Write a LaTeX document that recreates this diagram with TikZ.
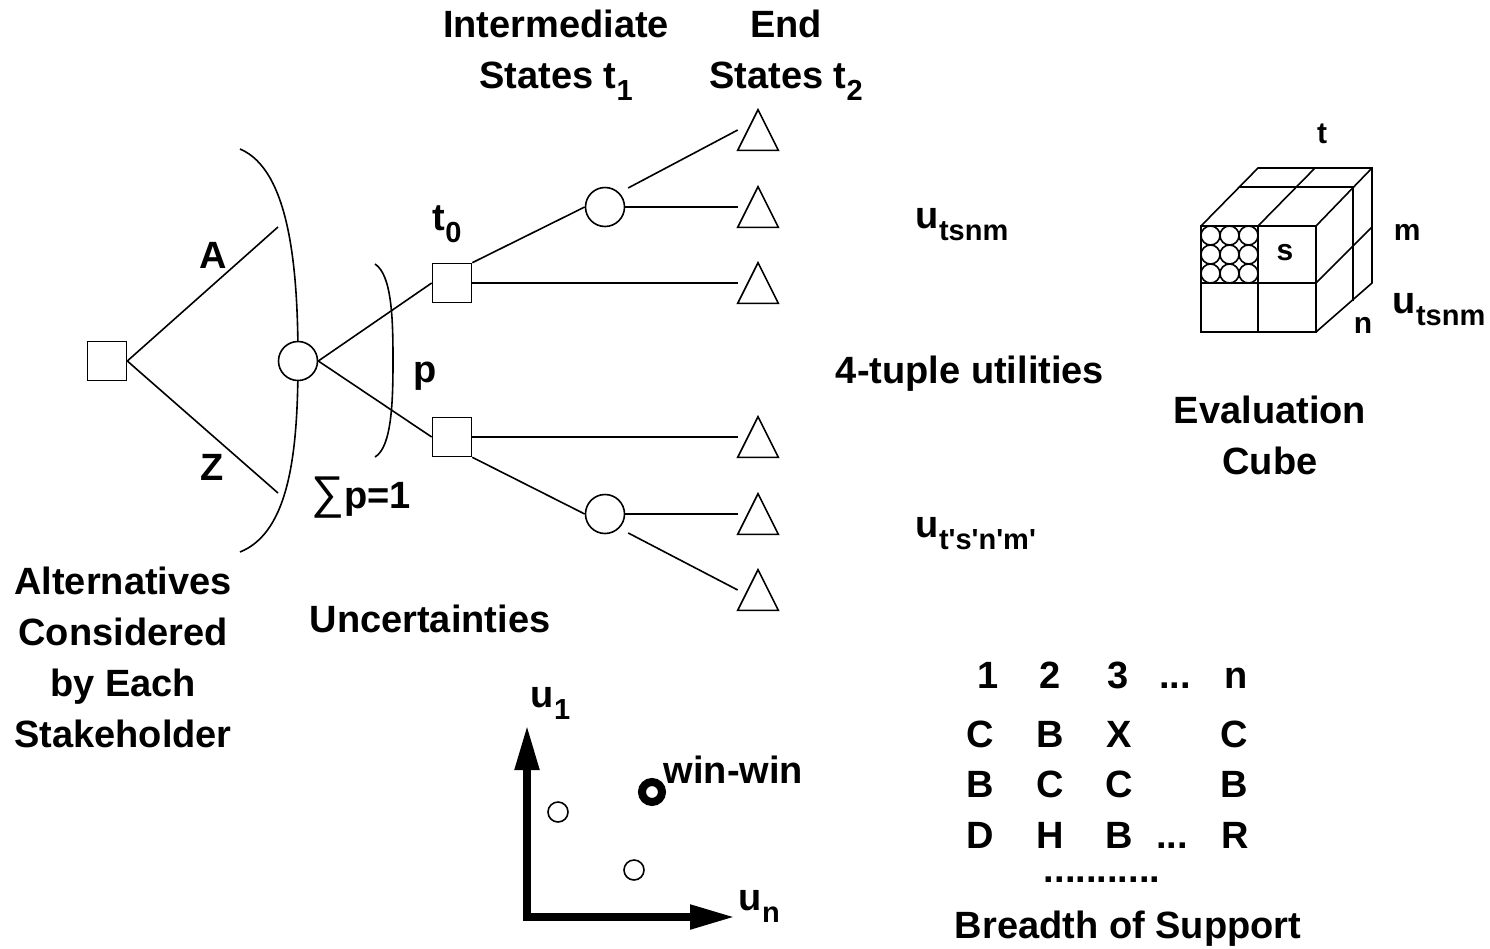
\documentclass[tikz,border=0pt]{standalone}
\usepackage{fontspec}
\setmainfont{Liberation Sans}
\usepackage{tikz}
\usetikzlibrary{arrows.meta}
\newcommand{\sbs}[1]{\raisebox{-.33em}{\fontsize{29}{29}\selectfont #1}}

\begin{document}
\begin{tikzpicture}[x=1pt,y=-1pt,line width=1.6pt,
  txt/.style={font=\bfseries\fontsize{38}{51}\selectfont, inner sep=0pt, anchor=base, align=center},
  small/.style={font=\bfseries\fontsize{30}{30}\selectfont, inner sep=0pt, anchor=base},
  box/.style={draw, fill=white, minimum size=39pt, inner sep=0pt},
  chance/.style={draw, fill=white, circle, minimum size=39pt, inner sep=0pt},
  endst/.style={minimum width=39pt, minimum height=39pt, inner sep=0pt},
  pt/.style={draw, circle, minimum size=20pt, inner sep=0pt}]
\useasboundingbox (0,0) rectangle (1490,948);
% brackets
\draw (240,149) .. controls (290,170) and (298,270) .. (298,360) .. controls (298,450) and (290,532) .. (240,552);
\draw (375,264) .. controls (392,275) and (393,320) .. (393,360) .. controls (393,400) and (392,447) .. (375,457);
% decision tree
\node[box] (d0) at (107,361) {};
\node[chance] (c0) at (298,361) {};
\node[box] (s1) at (452,283) {};
\node[box] (s2) at (452,437) {};
\node[chance] (c1) at (605,207) {};
\node[chance] (c2) at (605,514) {};
\foreach \n/\y in {1/130,2/207,3/283,4/437,5/514,6/590}{
  \node[endst] (e\n) at (758,\y) {};
  \draw (e\n.south west) -- (e\n.north) -- (e\n.south east) -- cycle;
}
\coordinate (ea) at (278,227);
\coordinate (ez) at (278,493);
\draw (d0.east) -- (ea);
\draw (d0.east) -- (ez);
\draw (c0.east) -- (s1.west);
\draw (c0.east) -- (s2.west);
\draw (s1.north east) -- (c1.west);
\draw (s1.east) -- (e3.west);
\draw[shorten <=10pt] (c1.north east) -- (e1.west);
\draw (c1.east) -- (e2.west);
\draw (s2.east) -- (e4.west);
\draw (s2.south east) -- (c2.west);
\draw (c2.east) -- (e5.west);
\draw[shorten <=10pt] (c2.south east) -- (e6.west);
% labels of the tree
\node[txt] (la) at (213,268) {A};
\node[txt] (lz) at (212,480) {Z};
\node[txt, anchor=base west] (lt0) at (432,230) {t\sbs{0}};
\node[txt] (lp) at (425,382) {p};
\node[txt] (lsum) at (361,508) {{\mdseries\fontsize{46}{46}\selectfont ∑}p=1};
\node[txt] (lint) at (556,88) {Intermediate\\States t\sbs{1}};
\node[txt] (lend) at (786,88) {End\\States t\sbs{2}};
\node[txt, anchor=base west] (lua) at (915,228) {u\sbs{tsnm}};
\node[txt] (ltup) at (970,383) {4-tuple utilities};
\node[txt, anchor=base west] (lub) at (915,537) {u\sbs{t\textquotesingle s\textquotesingle n\textquotesingle m\textquotesingle}};
\node[txt] (lalt) at (123,747) {Alternatives\\Considered\\by Each\\Stakeholder};
\node[txt] (lunc) at (430,632) {Uncertainties};
% evaluation cube
\draw (1201,226) rectangle (1316,332);
\draw (1258,226) -- (1258,332);
\draw (1201,283) -- (1316,283);
\draw (1201,226) -- (1258,168) -- (1372,168) -- (1372,283) -- (1316,332);
\draw (1316,226) -- (1372,168);
\draw (1258,226) -- (1315,168);
\draw (1239,187) -- (1353,187) -- (1353,301);
\draw (1316,283) -- (1372,227);
\foreach \i in {0,1,2}
  \foreach \j in {0,1,2}
    \draw (1210.5+19*\i,235.5+19*\j) circle (9.5pt);
\node[small] (ct) at (1322,143) {t};
\node[small, anchor=base west] (cm) at (1393,240) {m};
\node[small] (cs) at (1285,260) {s};
\node[small] (cn) at (1363,333) {n};
\node[txt, anchor=base west] (cu) at (1392,313) {u\sbs{tsnm}};
\node[txt] (lcube) at (1270,474) {Evaluation\\Cube};
% win-win plot
\coordinate (o) at (527,917);
\coordinate (ya) at (527,725);
\coordinate (xa) at (735,917);
\draw[line width=8pt, {Triangle[length=45pt,width=23pt]}-{Triangle[length=45pt,width=23pt]}] (ya) -- (o) -- (xa);
\node[pt] (q1) at (558,812) {};
\node[pt] (q2) at (634,870) {};
\node[draw, circle, line width=8pt, minimum size=20pt, inner sep=0pt] (ww) at (652,792) {};
\node[txt, anchor=base west] (lww) at (663,783) {win-win};
\node[txt, anchor=base west] (lu1) at (530,707) {u\sbs{1}};
\node[txt, anchor=base west] (lun) at (738,910) {u\sbs{n}};
% breadth of support
\foreach \s/\x [count=\k] in {1/988,2/1050,3/1118,{.{}.{}.}/1175,n/1236}
  \node[txt] (ra\k) at (\x,688) {\s};
\foreach \s/\x [count=\k] in {C/980,B/1050,X/1119,C/1234}
  \node[txt] (rb\k) at (\x,747) {\s};
\foreach \s/\x [count=\k] in {B/980,C/1050,C/1119,B/1234}
  \node[txt] (rc\k) at (\x,797) {\s};
\foreach \s/\x [count=\k] in {D/980,H/1050,B/1119,{.{}.{}.}/1172,R/1235}
  \node[txt] (rd\k) at (\x,848) {\s};
\node[txt] (rdots) at (1102,882) {...........};
\node[txt] (lbs) at (1128,938) {Breadth of Support};
\end{tikzpicture}
\end{document}
